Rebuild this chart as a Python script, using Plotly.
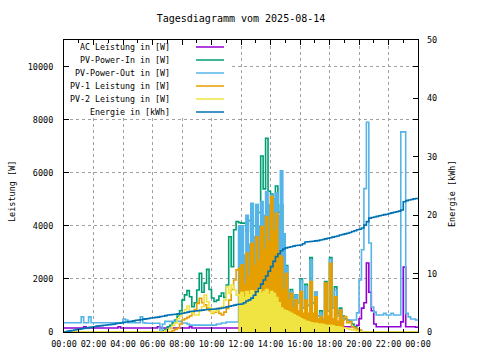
import pandas as pd
import plotly.graph_objects as go

# ---------------- data (10-minute steps, 00:00 .. 24:00) ----------------
times = pd.date_range("2025-08-14 00:00", periods=145, freq="10min")

ac_power = [
    150, 150, 150, 150, 150, 150,          # 00h
    150, 150, 200, 150, 150, 150,          # 01h
    150, 150, 150, 150, 150, 150,          # 02h
    150, 150, 150, 150, 200, 150,          # 03h
    150, 150, 150, 150, 150, 150,          # 04h
    150, 150, 150, 150, 150, 150,          # 05h
    150, 150, 200, 150, 150, 150,          # 06h
    150, 150, 150, 150, 150, 150,          # 07h
    150, 150, 150, 200, 150, 150,          # 08h
    150, 150, 150, 150, 150, 150,          # 09h
    150, 150, 150, 150, 150, 150,          # 10h
    150, 150, 150, 150, 150, 150,          # 11h
    150, 300, 500, 700, 900, 1000,         # 12h
    1100, 1200, 1700, 1300, 1500, 1300,    # 13h
    1400, 1300, 2000, 1000, 800, 700,      # 14h
    600, 500, 400, 450, 400, 350,          # 15h
    450, 300, 300, 250, 250, 200,          # 16h
    200, 250, 200, 200, 200, 200,          # 17h
    200, 200, 200, 250, 200, 200,          # 18h
    200, 200, 200, 200, 200, 250,          # 19h
    500, 900, 1100, 2600, 1500, 800,       # 20h
    300, 200, 200, 200, 200, 200,          # 21h
    200, 200, 200, 200, 200, 380,          # 22h
    2450, 200, 200, 200, 200, 180,         # 23h
    180,
]

pv_in = [
    0, 0, 0, 0, 0, 0,                      # 00h
    0, 0, 0, 0, 0, 0,                      # 01h
    0, 0, 0, 0, 0, 0,                      # 02h
    0, 0, 0, 0, 0, 0,                      # 03h
    0, 0, 0, 0, 0, 0,                      # 04h
    0, 0, 0, 0, 0, 0,                      # 05h
    0, 0, 0, 0, 50, 100,                   # 06h
    200, 250, 350, 450, 600, 800,          # 07h
    1200, 1400, 1560, 1330, 950, 1100,     # 08h
    1580, 2210, 1500, 1840, 2360, 1600,    # 09h
    1280, 1150, 1200, 1350, 1470, 1300,    # 10h
    1770, 3590, 2460, 3850, 4160, 4120,    # 11h
    4100, 4100, 3800, 4200, 4300, 4000,    # 12h
    4800, 4500, 6630, 5390, 7300, 5300,    # 13h
    5200, 5000, 5500, 4500, 4800, 3000,    # 14h
    2500, 1400, 1600, 1300, 1400, 1100,    # 15h
    2000, 900, 1800, 1000, 2800, 1100,     # 16h
    1500, 600, 800, 500, 1900, 800,        # 17h
    2800, 900, 1700, 700, 900, 600,        # 18h
    500, 450, 400, 300, 200, 100,          # 19h
    50, 0, 0, 0, 0, 0,                     # 20h
    0, 0, 0, 0, 0, 0,                      # 21h
    0, 0, 0, 0, 0, 0,                      # 22h
    0, 0, 0, 0, 0, 0,                      # 23h
    0,
]

pv_out = [
    350, 350, 350, 350, 350, 350,          # 00h
    350, 570, 350, 350, 570, 350,          # 01h
    350, 350, 350, 350, 350, 350,          # 02h
    350, 350, 350, 350, 350, 350,          # 03h
    490, 450, 350, 350, 350, 350,          # 04h
    350, 570, 350, 330, 330, 330,          # 05h
    330, 330, 330, 0, 300, 400,            # 06h
    400, 400, 400, 400, 400, 400,          # 07h
    340, 340, 300, 260, 260, 260,          # 08h
    260, 260, 260, 260, 260, 260,          # 09h
    260, 260, 300, 300, 340, 340,          # 10h
    377, 377, 377, 377, 377, 3970,         # 11h
    4000, 2900, 4400, 3300, 4850, 3600,    # 12h
    4790, 4000, 4910, 4400, 5290, 4800,    # 13h
    5160, 5000, 5230, 4400, 6070, 3700,    # 14h
    2460, 1400, 1520, 1200, 1390, 1100,    # 15h
    1960, 900, 1710, 1000, 2710, 1080,     # 16h
    1500, 600, 700, 500, 1770, 800,        # 17h
    2740, 900, 1580, 600, 830, 520,        # 18h
    480, 450, 450, 450, 450, 720,          # 19h
    1960, 3100, 5400, 7900, 3350, 940,     # 20h
    750, 640, 640, 640, 700, 640,          # 21h
    640, 700, 640, 640, 640, 7540,         # 22h
    7540, 700, 570, 490, 490, 450,         # 23h
    450,
]

pv1 = [
    0, 0, 0, 0, 0, 0,                      # 00h
    0, 0, 0, 0, 0, 0,                      # 01h
    0, 0, 0, 0, 0, 0,                      # 02h
    0, 0, 0, 0, 0, 0,                      # 03h
    0, 0, 0, 0, 0, 0,                      # 04h
    0, 0, 0, 0, 0, 0,                      # 05h
    0, 0, 0, 0, 0, 0,                      # 06h
    0, 0, 50, 100, 140, 300,               # 07h
    450, 500, 550, 600, 700, 850,          # 08h
    1080, 1270, 1100, 1020, 900, 800,      # 09h
    700, 750, 830, 700, 640, 750,          # 10h
    890, 1200, 1600, 1960, 2340, 2400,     # 11h
    2530, 1800, 2970, 2100, 3340, 2500,    # 12h
    3590, 2700, 3970, 3100, 4350, 3400,    # 13h
    5100, 3800, 4470, 3000, 2840, 1600,    # 14h
    2210, 1200, 1460, 900, 1200, 800,      # 15h
    1520, 700, 1200, 700, 1900, 700,       # 16h
    1330, 500, 580, 450, 1840, 600,        # 17h
    2590, 500, 1330, 400, 830, 450,        # 18h
    580, 350, 390, 200, 150, 100,          # 19h
    75, 0, 0, 0, 0, 0,                     # 20h
    0, 0, 0, 0, 0, 0,                      # 21h
    0, 0, 0, 0, 0, 0,                      # 22h
    0, 0, 0, 0, 0, 0,                      # 23h
    0,
]

pv2 = [
    0, 0, 0, 0, 0, 0,                      # 00h
    0, 0, 0, 0, 0, 0,                      # 01h
    0, 0, 0, 0, 0, 0,                      # 02h
    0, 0, 0, 0, 0, 0,                      # 03h
    0, 0, 0, 0, 0, 0,                      # 04h
    0, 0, 0, 0, 0, 0,                      # 05h
    0, 0, 0, 0, 0, 50,                     # 06h
    100, 150, 250, 340, 500, 600,          # 07h
    720, 850, 980, 770, 700, 640,          # 08h
    640, 800, 950, 1390, 1140, 900,        # 09h
    720, 780, 830, 900, 950, 1200,         # 10h
    1710, 1460, 1770, 1580, 1390, 1400,    # 11h
    1500, 1300, 1520, 1400, 1550, 1350,    # 12h
    1520, 1660, 1450, 1520, 1600, 1400,    # 13h
    1520, 1450, 1300, 1100, 900, 830,      # 14h
    800, 750, 700, 650, 600, 550,          # 15h
    500, 450, 400, 380, 350, 330,          # 16h
    330, 300, 300, 280, 250, 250,          # 17h
    250, 230, 200, 200, 180, 150,          # 18h
    150, 120, 100, 80, 60, 40,             # 19h
    20, 0, 0, 0, 0, 0,                     # 20h
    0, 0, 0, 0, 0, 0,                      # 21h
    0, 0, 0, 0, 0, 0,                      # 22h
    0, 0, 0, 0, 0, 0,                      # 23h
    0,
]

energy_kwh = [
    0.0, 0.1, 0.2, 0.25, 0.35, 0.45,       # 00h
    0.5, 0.55, 0.65, 0.7, 0.8, 0.85,       # 01h
    0.9, 1.0, 1.05, 1.1, 1.15, 1.2,        # 02h
    1.25, 1.3, 1.35, 1.45, 1.5, 1.55,      # 03h
    1.65, 1.7, 1.8, 1.85, 1.9, 2.0,        # 04h
    2.05, 2.1, 2.2, 2.25, 2.3, 2.4,        # 05h
    2.45, 2.5, 2.55, 2.65, 2.7, 2.8,       # 06h
    2.9, 2.95, 3.0, 3.05, 3.1, 3.15,       # 07h
    3.2, 3.3, 3.4, 3.5, 3.55, 3.6,         # 08h
    3.65, 3.7, 3.75, 3.8, 3.85, 3.9,       # 09h
    3.9, 3.95, 4.0, 4.05, 4.1, 4.2,        # 10h
    4.3, 4.4, 4.5, 4.6, 4.7, 4.75,         # 11h
    4.8, 5.0, 5.3, 5.5, 5.8, 6.3,          # 12h
    6.9, 7.5, 8.2, 8.9, 9.6, 10.4,         # 13h
    11.2, 12.1, 12.9, 13.4, 13.9, 14.2,    # 14h
    14.4, 14.5, 14.6, 14.7, 14.8, 14.85,   # 15h
    14.9, 15.1, 15.4, 15.45, 15.5, 15.55,  # 16h
    15.6, 15.65, 15.75, 15.85, 15.95, 16.05,  # 17h
    16.15, 16.25, 16.35, 16.45, 16.6, 16.7,   # 18h
    16.8, 16.9, 17.05, 17.2, 17.35, 17.5,  # 19h
    17.6, 17.8, 18.3, 18.9, 19.5, 19.6,    # 20h
    19.7, 19.8, 19.9, 20.0, 20.1, 20.15,   # 21h
    20.3, 20.4, 20.5, 20.6, 20.7, 20.9,    # 22h
    22.3, 22.5, 22.6, 22.7, 22.8, 22.85,   # 23h
    22.9,
]

series_names = ["AC Leistung in [W]", "PV-Power-In in [W]", "PV-Power-Out in [W]",
                "PV-1 Leistung in [W]", "PV-2 Leistung in [W]", "Energie in [kWh]"]
series_colors = ["#9400D3", "#009E73", "#56B4E9", "#E69F00", "#F0E442", "#0072B2"]

# index windows (10-min slots) in which the reference signal oscillates so fast it looks solid
dense_window = {2: (71, 95), 3: (71, 114), 4: (71, 114)}

# ---------------- figure ----------------
FONT = "DejaVu Sans Mono"
fig = go.Figure()
power_series = [ac_power, pv_in, pv_out, pv1, pv2]
for k, (vals, name, col) in enumerate(zip(power_series, series_names[:5], series_colors[:5])):
    if k in dense_window:
        a, b = dense_window[k]
        masked = [v if a <= i <= b else None for i, v in enumerate(vals)]
        fig.add_trace(go.Scatter(x=times, y=masked, mode="lines", fill="tozeroy",
                                 fillcolor=col, line=dict(width=0, shape="hv", color=col),
                                 hoverinfo="skip", showlegend=False, yaxis="y"))
    fig.add_trace(go.Scatter(x=times, y=vals, mode="lines", name=name,
                             line=dict(color=col, width=1.6, shape="hv"), yaxis="y"))
fig.add_trace(go.Scatter(x=times, y=energy_kwh, mode="lines", name=series_names[5],
                         line=dict(color=series_colors[5], width=1.6, shape="hv"), yaxis="y2"))

# plot area in pixels: x 64..418, y 40..332
L, R, T, B = 64, 418, 40, 332
W, H = R - L, B - T
def px(xp): return (xp - L) / W
def py(yp): return (B - yp) / H

annotations = []
shapes = [dict(type="rect", xref="paper", yref="paper", layer="above",
               x0=px(70), x1=px(232), y0=py(118), y1=py(46),
               fillcolor="white", line=dict(width=0))]
row_y = [47, 60, 73, 86, 99, 112]
for name, col, yy in zip(series_names, series_colors, row_y):
    annotations.append(dict(text=name, x=px(172), y=py(yy), xref="paper", yref="paper",
                            xanchor="right", yanchor="middle", showarrow=False,
                            font=dict(family=FONT, size=8.3, color="black")))
    shapes.append(dict(type="line", xref="paper", yref="paper", layer="above",
                       x0=px(196), x1=px(224), y0=py(yy), y1=py(yy),
                       line=dict(color=col, width=1.5)))

annotations.append(dict(text="Leistung [W]", x=px(12), y=py(192), xref="paper", yref="paper",
                        textangle=-90, showarrow=False, xanchor="center", yanchor="middle",
                        font=dict(family=FONT, size=8.5, color="black")))
annotations.append(dict(text="Energie [kWh]", x=px(452), y=py(193), xref="paper", yref="paper",
                        textangle=-90, showarrow=False, xanchor="center", yanchor="middle",
                        font=dict(family=FONT, size=8.5, color="black")))

grid = dict(showgrid=True, gridcolor="#a0a0a0", gridwidth=1, griddash="3px,3px")
fig.update_layout(
    width=480, height=360,
    margin=dict(l=L, r=480 - R, t=T, b=360 - B, pad=0, autoexpand=False),
    paper_bgcolor="white", plot_bgcolor="white",
    showlegend=False,
    title=dict(text="Tagesdiagramm vom 2025-08-14", x=px(241), xref="paper",
               y=1 - 18 / 360, yanchor="middle", xanchor="center",
               font=dict(family=FONT, size=10, color="black")),
    font=dict(family=FONT, size=8.5, color="black"),
    xaxis=dict(type="date", range=["2025-08-14 00:00", "2025-08-15 00:00"],
               dtick=2 * 3600 * 1000, tick0="2025-08-14 00:00", tickformat="%H:%M",
               ticks="inside", ticklen=5, tickcolor="black", automargin=False,
               ticklabelstandoff=4,
               minor=dict(dtick=3600 * 1000, ticks="inside", ticklen=3, tickcolor="black", showgrid=False),
               showline=True, linecolor="black", linewidth=1, mirror="ticks",
               zeroline=False, tickfont=dict(family=FONT, size=8.5), **grid),
    yaxis=dict(range=[0, 11000], dtick=2000, tick0=0, tickformat="d",
               ticks="inside", ticklen=5, tickcolor="black", automargin=False,
               ticklabelstandoff=8,
               showline=True, linecolor="black", linewidth=1, mirror="ticks",
               zeroline=False, tickfont=dict(family=FONT, size=8.5), **grid),
    yaxis2=dict(range=[0, 50], dtick=10, tick0=0, overlaying="y", side="right",
                ticks="inside", ticklen=5, tickcolor="black", showgrid=False,
                automargin=False, ticklabelstandoff=8,
                showline=False, zeroline=False, tickfont=dict(family=FONT, size=8.5)),
    annotations=annotations, shapes=shapes,
)

fig.write_html("out.html", config={"displayModeBar": False},
               post_script="document.body.style.margin='0px';")
